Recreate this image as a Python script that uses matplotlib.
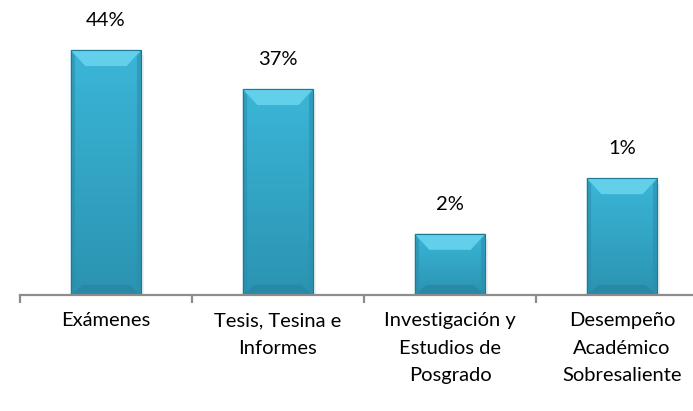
import numpy as np
import matplotlib.pyplot as plt
from matplotlib.patches import Polygon
from matplotlib.colors import LinearSegmentedColormap

# Data
categories = ["Exámenes", "Tesis, Tesina e\nInformes", "Investigación y\nEstudios de\nPosgrado",
              "Desempeño\nAcadémico\nSobresaliente"]
heights = [44, 37, 11, 21]          # bar heights as drawn
labels = ["44%", "37%", "2%", "1%"]  # labels as printed on the chart

plt.rcParams['font.family'] = ['Lato', 'DejaVu Sans']

fig = plt.figure(figsize=(6.93, 4.11), dpi=100)
ax = fig.add_axes([20/693, 116/411, 688/693, 278.5/411])

x = np.arange(len(categories))
bars = ax.bar(x, heights, width=0.41, color="#38afd0", edgecolor="#1f7a94",
              linewidth=0.8, zorder=2)

# vertical gradient inside each bar
grad_cmap = LinearSegmentedColormap.from_list("g", ["#2b93b1", "#3bb6d8"])
grad = np.linspace(0, 1, 256).reshape(-1, 1)

for b in bars:
    x0, w, h = b.get_x(), b.get_width(), b.get_height()
    x1 = x0 + w
    im = ax.imshow(grad, cmap=grad_cmap, origin="lower", aspect="auto",
                   extent=[x0, x1, 0, h], zorder=2.1)
    im.set_clip_path(b)

    bx, by, bb, sx = 0.085, 2.9, 1.8, 0.025
    # top bevel
    ax.add_patch(Polygon([(x0, h), (x1, h), (x1 - bx, h - by), (x0 + bx, h - by)],
                         closed=True, facecolor="#62d0eb", edgecolor="none", zorder=2.3))
    # side bevels
    ax.add_patch(Polygon([(x0, h), (x0 + sx, h - by * 0.4), (x0 + sx, bb * 0.5), (x0, 0)],
                         closed=True, facecolor="#2a8eab", alpha=0.6, edgecolor="none", zorder=2.2))
    ax.add_patch(Polygon([(x1, h), (x1 - sx, h - by * 0.4), (x1 - sx, bb * 0.5), (x1, 0)],
                         closed=True, facecolor="#2a8eab", alpha=0.6, edgecolor="none", zorder=2.2))
    # bottom bevel
    ax.add_patch(Polygon([(x0, 0), (x1, 0), (x1 - bx * 0.8, bb), (x0 + bx * 0.8, bb)],
                         closed=True, facecolor="#2787a3", alpha=0.8, edgecolor="none", zorder=2.2))
    # outline on top
    ax.add_patch(Polygon([(x0, 0), (x0, h), (x1, h), (x1, 0)], closed=True,
                         facecolor="none", edgecolor="#1f7a94", linewidth=0.8, zorder=2.4))
    # soft shadow
    ax.add_patch(Polygon([(x0 + 0.01, -0.6), (x1 + 0.015, -0.6), (x1 + 0.015, h - 1), (x0 + 0.01, h - 1)],
                         closed=True, facecolor="#000000", alpha=0.06, edgecolor="none", zorder=1.9))

for xi, h, lab in zip(x, heights, labels):
    ax.annotate(lab, (xi, h), xytext=(0, 21), textcoords="offset points",
                ha="center", va="center", fontsize=14.5, color="#000000")

ax.set_xlim(-0.5, 3.5)
ax.set_ylim(0, 50)

for s in ["top", "right", "left"]:
    ax.spines[s].set_visible(False)
ax.spines["bottom"].set_color("#8c8c8c")
ax.spines["bottom"].set_linewidth(1.6)
ax.spines["bottom"].set_zorder(3)

ax.set_yticks([])
ax.set_xticks(x)
ax.set_xticklabels(categories, fontsize=14.5, linespacing=1.75)
ax.tick_params(axis="x", which="major", length=0, pad=12.5)
ax.set_xticks(np.arange(-0.5, 4.0, 1.0), minor=True)
ax.tick_params(axis="x", which="minor", length=6, width=1.6, color="#8c8c8c", direction="out")

fig.savefig("out.png", dpi=100)
